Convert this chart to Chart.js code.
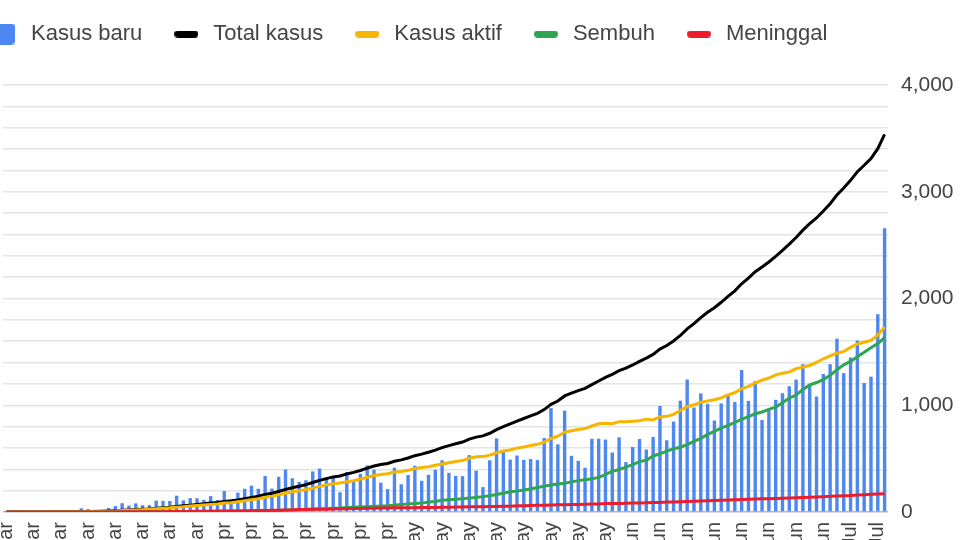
<!DOCTYPE html>
<html>
<head>
<meta charset="utf-8">
<script src="https://cdn.jsdelivr.net/npm/chart.js@4.4.1/dist/chart.umd.min.js"></script>
<style>
  html, body { margin: 0; padding: 0; width: 960px; height: 540px; overflow: hidden; background: #fff; }
  #wrap { position: absolute; left: -40px; top: -5px; width: 998px; height: 600px; }
</style>
</head>
<body>
<div id="wrap"><canvas id="chart"></canvas></div>
<script>
  // Days, 2 Mar - 9 Jul
  const days = [
    '2 Mar','3 Mar','4 Mar','5 Mar','6 Mar','7 Mar','8 Mar','9 Mar','10 Mar','11 Mar','12 Mar','13 Mar','14 Mar','15 Mar','16 Mar',
    '17 Mar','18 Mar','19 Mar','20 Mar','21 Mar','22 Mar','23 Mar','24 Mar','25 Mar','26 Mar','27 Mar','28 Mar','29 Mar','30 Mar','31 Mar',
    '1 Apr','2 Apr','3 Apr','4 Apr','5 Apr','6 Apr','7 Apr','8 Apr','9 Apr','10 Apr','11 Apr','12 Apr','13 Apr','14 Apr','15 Apr',
    '16 Apr','17 Apr','18 Apr','19 Apr','20 Apr','21 Apr','22 Apr','23 Apr','24 Apr','25 Apr','26 Apr','27 Apr','28 Apr','29 Apr','30 Apr',
    '1 May','2 May','3 May','4 May','5 May','6 May','7 May','8 May','9 May','10 May','11 May','12 May','13 May','14 May','15 May','16 May',
    '17 May','18 May','19 May','20 May','21 May','22 May','23 May','24 May','25 May','26 May','27 May','28 May','29 May','30 May','31 May',
    '1 Jun','2 Jun','3 Jun','4 Jun','5 Jun','6 Jun','7 Jun','8 Jun','9 Jun','10 Jun','11 Jun','12 Jun','13 Jun','14 Jun','15 Jun',
    '16 Jun','17 Jun','18 Jun','19 Jun','20 Jun','21 Jun','22 Jun','23 Jun','24 Jun','25 Jun','26 Jun','27 Jun','28 Jun','29 Jun','30 Jun',
    '1 Jul','2 Jul','3 Jul','4 Jul','5 Jul','6 Jul','7 Jul','8 Jul','9 Jul'
  ];

  // right axis
  const kasusBaru = [
    2,0,0,0,2,0,2,13,8,7,0,35,27,21,17,38,55,82,60,81,64,65,107,104,103,153,109,130,129,114,
    149,113,196,106,181,218,247,218,337,219,330,399,316,282,297,380,407,325,327,185,375,283,357,436,396,275,214,415,260,347,
    433,292,349,395,484,367,338,336,533,387,233,484,689,568,490,529,489,496,486,693,973,634,949,526,479,415,686,687,678,557,700,
    467,609,684,585,703,993,672,847,1043,1241,979,1111,1014,857,1017,1106,1031,1331,1041,1226,862,954,1051,1113,1178,1240,1385,1198,1082,1293,
    1385,1624,1301,1447,1607,1209,1268,1853,2657
  ];

  // left axis (cut off in the picture)
  const totalKasus = [
    2,2,2,2,4,4,6,19,27,34,34,69,96,117,134,172,227,309,369,450,514,579,686,790,893,1046,1155,1285,1414,1528,
    1677,1790,1986,2092,2273,2491,2738,2956,3293,3512,3842,4241,4557,4839,5136,5516,5923,6248,6575,6760,7135,7418,7775,8211,8607,8882,9096,9511,9771,10118,
    10551,10843,11192,11587,12071,12438,12776,13112,13645,14032,14265,14749,15438,16006,16496,17025,17514,18010,18496,19189,20162,20796,21745,22271,22750,23165,23851,24538,25216,25773,26473,
    26940,27549,28233,28818,29521,30514,31186,32033,33076,34316,35295,36406,37420,38277,39294,40400,41431,42762,43803,45029,45891,46845,47896,49009,50187,51427,52812,54010,55092,56385,
    57770,59394,60695,62142,63749,64958,66226,68079,70736
  ];

  const kasusAktif = [
    2,2,2,2,4,4,6,19,27,33,33,60,86,104,121,158,197,269,321,392,437,500,601,701,780,913,994,1107,1217,1311,
    1417,1508,1671,1751,1911,2090,2313,2494,2761,2924,3229,3509,3778,3954,4221,4472,4796,5082,5307,5423,5677,5870,6168,6520,6845,7032,7180,7484,7596,7804,
    8160,8347,8471,8769,9002,9226,9465,9659,10065,10343,10377,10658,11108,11412,11604,11966,12194,12465,12679,13073,13779,14196,14971,15238,15455,15635,16115,16526,16628,16552,16925,
    16893,16994,17092,17395,17253,17809,17921,18294,19024,19721,20082,20582,20798,21020,21393,21926,22357,23074,23547,24196,24691,25104,25703,25987,26234,26835,27156,27456,28029,28703,
    29241,29740,30091,30834,31473,31798,32132,33135,34668
  ];

  const sembuh = [
    0,0,0,0,0,0,0,0,0,0,0,5,5,8,8,9,11,15,16,20,29,30,30,31,35,46,59,64,75,81,
    103,112,134,150,164,192,204,222,252,282,286,359,380,426,446,548,607,631,686,747,842,913,960,1002,1042,1107,1151,1254,1391,1522,
    1591,1665,1876,1954,2197,2317,2381,2494,2607,2698,2881,3063,3287,3518,3803,3911,4129,4324,4575,4838,5057,5249,5402,5642,5877,6057,6240,6492,7015,7637,7935,
    8406,8892,9443,9702,10498,10904,11414,11856,12129,12636,13213,13776,14531,15123,15703,16243,16798,17349,17883,18404,18735,19241,19658,20449,21333,21909,22936,23800,24258,24806,
    25595,26667,27568,28219,29105,29919,30785,31585,32651
  ];

  const meninggal = [
    0,0,0,0,0,0,0,0,0,1,1,4,5,5,5,5,19,25,32,38,48,49,55,58,78,87,102,114,122,136,
    157,170,181,191,198,209,221,240,280,306,327,373,399,459,469,496,520,535,582,590,616,635,647,689,720,743,765,773,784,792,
    800,831,845,864,872,895,930,959,973,991,1007,1028,1043,1076,1089,1148,1191,1221,1242,1278,1326,1351,1372,1391,1418,1473,1496,1520,1573,1584,1613,
    1641,1663,1698,1721,1770,1801,1851,1883,1923,1959,2000,2048,2091,2134,2198,2231,2276,2339,2373,2429,2465,2500,2535,2573,2620,2683,2720,2754,2805,2876,
    2934,2987,3036,3089,3171,3241,3309,3359,3417
  ];

  const FONT = 'Arial, "Liberation Sans", sans-serif';
  const TEXT = '#444444';

  // little canvases used as legend markers
  function marker(color, w, h, r) {
    const c = document.createElement('canvas');
    c.width = w; c.height = h;
    const g = c.getContext('2d');
    g.fillStyle = color;
    g.beginPath();
    g.roundRect(0, 0, w, h, r);
    g.fill();
    return c;
  }

  const blue = '#4d87ef', black = '#000000', yellow = '#f7b500', green = '#2fa551', red = '#ec1c2a';
  const markers = [
    marker(blue, 21, 21, 3),
    marker(black, 24, 7, 3.5),
    marker(yellow, 24, 7, 3.5),
    marker(green, 24, 7, 3.5),
    marker(red, 24, 7, 3.5)
  ];

  function lineSet(label, data, color, order) {
    return {
      type: 'line', label, data, yAxisID: 'y1', order,
      borderColor: color, backgroundColor: color, borderWidth: 3,
      pointRadius: 0, tension: 0
    };
  }

  new Chart(document.getElementById('chart'), {
    data: {
      labels: days,
      datasets: [
        { type: 'bar', label: 'Kasus baru', data: kasusBaru, yAxisID: 'y', order: 10,
          backgroundColor: blue, barPercentage: 0.5, categoryPercentage: 1.0 },
        lineSet('Total kasus', totalKasus, black, 4),
        lineSet('Kasus aktif', kasusAktif, yellow, 3),
        lineSet('Sembuh', sembuh, green, 2),
        lineSet('Meninggal', meninggal, red, 1)
      ]
    },
    options: {
      responsive: true,
      maintainAspectRatio: false,
      animation: false,
      layout: { padding: 0 },
      plugins: {
        tooltip: { enabled: false },
        legend: {
          position: 'top',
          align: 'start',
          labels: {
            usePointStyle: true,
            pointStyleWidth: 32,
            padding: 28,
            color: TEXT,
            font: { family: FONT, size: 22 },
            generateLabels(chart) {
              const items = Chart.defaults.plugins.legend.labels.generateLabels(chart);
              items.forEach(it => { it.pointStyle = markers[it.datasetIndex]; });
              return items;
            },
            sort: (a, b) => a.datasetIndex - b.datasetIndex
          }
        },
        // empty spacer between legend and plot
        title: {
          display: true, text: '', weight: 500,
          font: { size: 10, lineHeight: 1 },
          padding: { top: 0, bottom: 20 }
        }
      },
      scales: {
        x: {
          grid: { display: false, drawTicks: false },
          border: { display: false },
          ticks: {
            autoSkip: false, minRotation: 90, maxRotation: 90, padding: 10,
            color: TEXT, font: { family: FONT, size: 20 },
            callback: function (v, i) { return i % 4 === 0 ? this.getLabelForValue(v) : ''; }
          },
          afterFit: s => { s.height = 83; }
        },
        y: {
          position: 'right',
          min: 0, max: 4000,
          border: { display: false },
          grid: {
            drawTicks: false, lineWidth: 1.5,
            color: c => c.tick.value === 0 ? '#b8b8b8' : '#e4e4e4'
          },
          ticks: {
            stepSize: 200, autoSkip: false, padding: 13,
            color: TEXT, font: { family: FONT, size: 21 },
            callback: v => v % 1000 === 0 ? v.toLocaleString('en-US') : ''
          },
          afterFit: s => { s.width = 70; }
        },
        y1: {
          position: 'left',
          min: 0, max: 80000,
          border: { display: false },
          grid: { display: false, drawTicks: false },
          ticks: { display: false },
          afterFit: s => { s.width = 43; }
        }
      }
    }
  });
</script>
</body>
</html>
